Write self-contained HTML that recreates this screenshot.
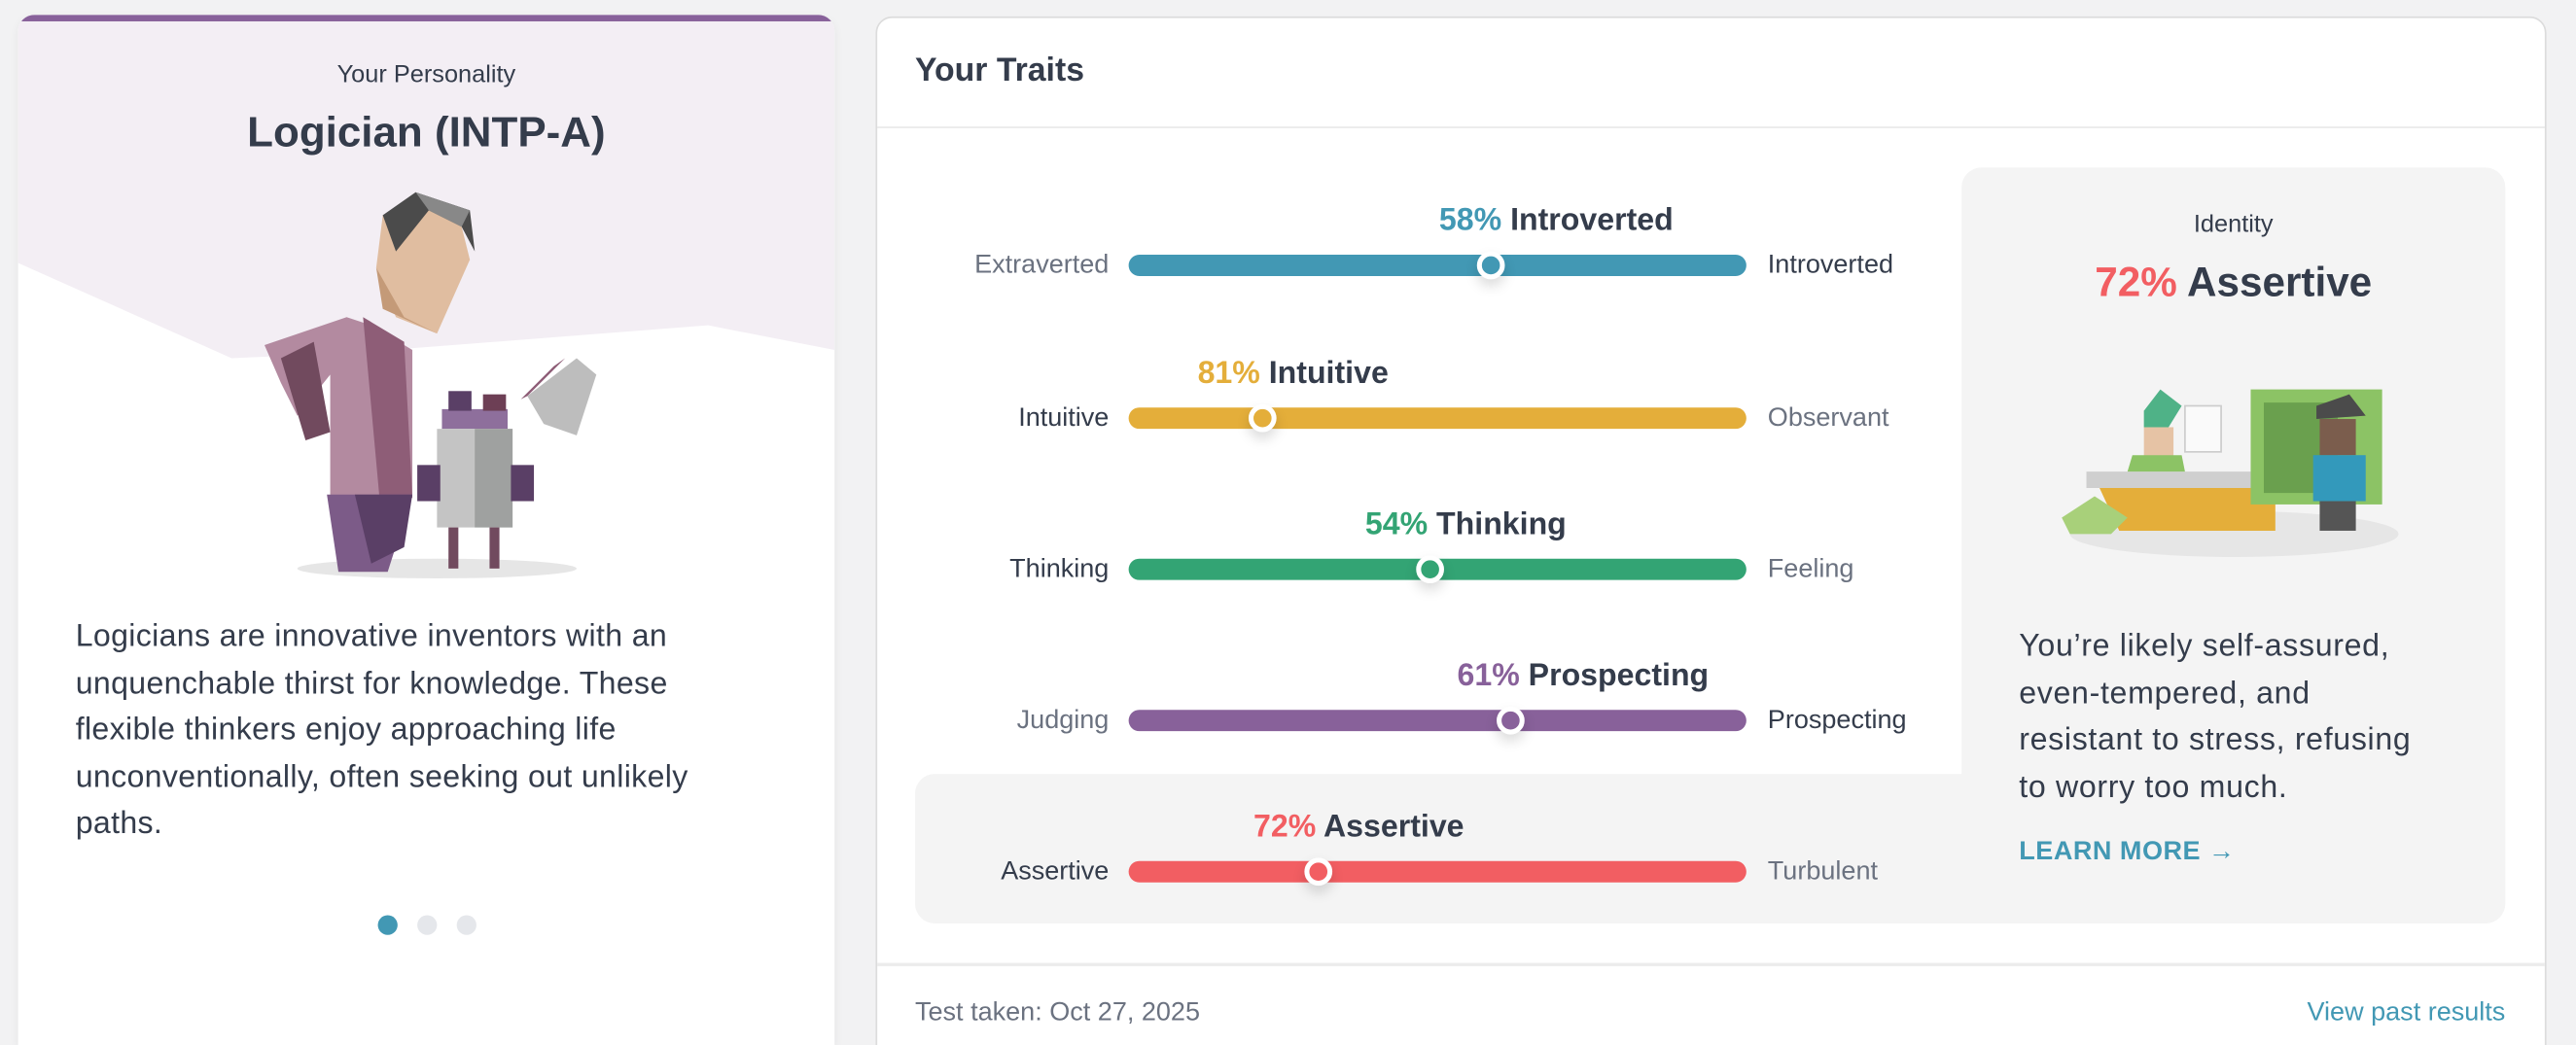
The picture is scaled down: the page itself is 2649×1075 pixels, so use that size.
<!DOCTYPE html>
<html><head><meta charset="utf-8"><style>
*{box-sizing:border-box;margin:0;padding:0}
html,body{width:2649px;height:1075px;overflow:hidden;background:#f2f2f3}
#w{position:absolute;left:0;top:0;width:1568px;height:636px;overflow:hidden;transform-origin:0 0;transform:scale(1.6894,1.6903);font-family:"Liberation Sans",sans-serif;color:#343c4b}
.a{position:absolute}
.card{position:absolute;background:#fff;border-radius:10px 10px 0 0;overflow:hidden}
.lbl{position:absolute;font-size:16px;line-height:20px;white-space:nowrap;margin-top:1px}
.l{right:893px;text-align:right}
.bar{position:absolute;left:687px;width:376px;height:13px;border-radius:7px}
.knob{position:absolute;width:17px;height:17px;border-radius:50%;border:3px solid #fff;box-shadow:0 4px 8px rgba(0,0,0,.15)}
.h{position:absolute;font-size:19px;font-weight:bold;white-space:nowrap;line-height:24px;margin-top:2px}
.g{color:#6b7280}
</style></head><body><div id="w">
<div class="card" style="left:11px;top:9px;width:497px;height:627px;box-shadow:0 2px 6px rgba(0,0,0,.06)">
 <div class="a" style="left:0;top:0;width:497px;height:4px;background:#88619a"></div>
 <svg class="a" style="left:0;top:4px" width="497" height="340">
  <polygon points="0,0 497,0 497,200 420,185 200,202 130,205 0,147" fill="#f3eef4"/>
  <ellipse cx="255" cy="333" rx="85" ry="6" fill="#e6e6e6"/>
  <polygon points="150,197 200,180 215,185 240,200 240,290 190,290 190,215 170,240 160,220" fill="#b38aa0"/>
  <polygon points="210,180 235,195 240,290 220,290" fill="#8e5d77"/>
  <polygon points="160,205 180,195 190,250 175,255" fill="#714a5e"/>
  <polygon points="188,288 240,288 225,335 195,335" fill="#7c5b88"/>
  <polygon points="205,288 240,288 235,320 215,330" fill="#5a3f66"/>
  <polygon points="222,118 250,112 270,125 275,145 255,190 230,180 218,150" fill="#e0bda0"/>
  <polygon points="218,150 235,180 255,190 222,175" fill="#c49a78"/>
  <polygon points="222,118 242,104 275,115 278,140 270,125 250,115 230,140" fill="#4b4b4b"/>
  <polygon points="242,104 275,115 270,125 250,115" fill="#888"/>
  <rect x="258" y="236" width="40" height="12" fill="#8e6f9c"/>
  <rect x="255" y="248" width="46" height="60" fill="#c4c4c4"/>
  <rect x="278" y="248" width="23" height="60" fill="#9fa1a0"/>
  <rect x="243" y="270" width="14" height="22" fill="#5a3f66"/>
  <rect x="300" y="270" width="14" height="22" fill="#5a3f66"/>
  <rect x="262" y="225" width="14" height="12" fill="#5a3f66"/>
  <rect x="283" y="227" width="14" height="10" fill="#6d3f55"/>
  <rect x="262" y="308" width="6" height="25" fill="#714a5e"/>
  <rect x="287" y="308" width="6" height="25" fill="#714a5e"/>
  <polygon points="310,228 340,205 352,215 340,252 320,245" fill="#bdbdbd"/>
  <polygon points="310,228 333,205 326,210 306,230" fill="#8e5d77"/>
 </svg>
 <div class="a" style="left:0;top:28px;width:497px;text-align:center;font-size:15px;color:#343c4b">Your Personality</div>
 <div class="a" style="left:0;top:56px;width:497px;text-align:center;font-size:26px;font-weight:bold">Logician (INTP-A)</div>
 <div class="a" style="left:35px;top:365px;width:440px;font-size:19px;line-height:28.5px;white-space:nowrap;letter-spacing:.2px">Logicians are innovative inventors with an<br>unquenchable thirst for knowledge. These<br>flexible thinkers enjoy approaching life<br>unconventionally, often seeking out unlikely<br>paths.</div>
 <div class="a" style="left:219px;top:548px;width:12px;height:12px;border-radius:50%;background:#4298b4"></div>
 <div class="a" style="left:243px;top:548px;width:12px;height:12px;border-radius:50%;background:#e5e7eb"></div>
 <div class="a" style="left:267px;top:548px;width:12px;height:12px;border-radius:50%;background:#e5e7eb"></div>
</div>
<div class="card" style="left:533px;top:10px;width:1017px;height:640px;border:1px solid #dcdcdc"></div>
<div class="a" style="left:557px;top:32px;font-size:20px;font-weight:bold">Your Traits</div>
<div class="a" style="left:534px;top:77px;width:1015px;height:1px;background:#e8e8e8"></div>
<div class="a" style="left:534px;top:586px;width:1015px;height:2px;background:#ececec"></div>
<div class="a g" style="left:557px;top:608px;font-size:16px">Test taken: Oct 27, 2025</div>
<div class="a" style="right:43px;top:608px;font-size:16px;color:#4298b4">View past results</div>
<div class="a" style="left:557px;top:471px;width:660px;height:91px;background:#f4f4f4;border-radius:12px"></div>
<div class="a" style="left:1194px;top:102px;width:331px;height:460px;background:#f4f4f4;border-radius:12px"></div>

<div class="h" style="left:876px;top:121px"><span style="color:#4298b4">58%</span> Introverted</div>
<div class="lbl l g" style="top:151px">Extraverted</div>
<div class="bar" style="top:155px;background:#4298b4"></div><div class="knob" style="left:899px;top:153px;background:#4298b4"></div>
<div class="lbl" style="left:1076px;top:151px">Introverted</div>

<div class="h" style="left:729px;top:214px"><span style="color:#e4ae3a">81%</span> Intuitive</div>
<div class="lbl l" style="top:244px">Intuitive</div>
<div class="bar" style="top:248px;background:#e4ae3a"></div><div class="knob" style="left:760px;top:246px;background:#e4ae3a"></div>
<div class="lbl g" style="left:1076px;top:244px">Observant</div>

<div class="h" style="left:831px;top:306px"><span style="color:#33a474">54%</span> Thinking</div>
<div class="lbl l" style="top:336px">Thinking</div>
<div class="bar" style="top:340px;background:#33a474"></div><div class="knob" style="left:862px;top:338px;background:#33a474"></div>
<div class="lbl g" style="left:1076px;top:336px">Feeling</div>

<div class="h" style="left:887px;top:398px"><span style="color:#88619a">61%</span> Prospecting</div>
<div class="lbl l g" style="top:428px">Judging</div>
<div class="bar" style="top:432px;background:#88619a"></div><div class="knob" style="left:911px;top:430px;background:#88619a"></div>
<div class="lbl" style="left:1076px;top:428px">Prospecting</div>

<div class="h" style="left:763px;top:490px"><span style="color:#f25e62">72%</span> Assertive</div>
<div class="lbl l" style="top:520px">Assertive</div>
<div class="bar" style="top:524px;background:#f25e62"></div><div class="knob" style="left:794px;top:522px;background:#f25e62"></div>
<div class="lbl g" style="left:1076px;top:520px">Turbulent</div>

<div class="a" style="left:1194px;top:128px;width:331px;text-align:center;font-size:15px">Identity</div>
<div class="a" style="left:1194px;top:158px;width:331px;text-align:center;font-size:25px;font-weight:bold"><span style="color:#f25e62">72%</span> Assertive</div>
<svg class="a" style="left:1250px;top:225px" width="220" height="125">
 <ellipse cx="110" cy="100" rx="100" ry="14" fill="#e6e6e6"/>
 <polygon points="20,62 140,62 140,72 20,72" fill="#cfcfcf"/>
 <polygon points="28,72 135,72 135,98 40,98" fill="#e4ae3a"/>
 <polygon points="5,90 25,77 45,90 35,100 10,100" fill="#a8d07a"/>
 <rect x="80" y="22" width="22" height="28" fill="#fafafa" stroke="#ccc"/>
 <polygon points="55,25 65,12 78,22 70,35 55,35" fill="#4fb287"/>
 <rect x="55" y="35" width="18" height="18" fill="#e6c3a5"/>
 <polygon points="48,52 78,52 80,62 45,62" fill="#8cc365"/>
 <rect x="120" y="12" width="80" height="70" fill="#8cc365"/>
 <rect x="128" y="20" width="45" height="55" fill="#6aa04e"/>
 <rect x="162" y="30" width="22" height="22" fill="#7b5d4d"/>
 <polygon points="160,22 180,15 190,28 160,30" fill="#4b4b4b"/>
 <rect x="158" y="52" width="32" height="28" fill="#3399bb"/>
 <rect x="162" y="80" width="22" height="18" fill="#555"/>
</svg>
<div class="a" style="left:1229px;top:380px;width:290px;font-size:19px;line-height:28.5px;white-space:nowrap;letter-spacing:.4px">You’re likely self-assured,<br>even-tempered, and<br>resistant to stress, refusing<br>to worry too much.</div>
<div class="a" style="left:1229px;top:510px;font-size:16px;font-weight:bold;color:#4298b4;letter-spacing:.3px">LEARN MORE →</div>
</div></body></html>
